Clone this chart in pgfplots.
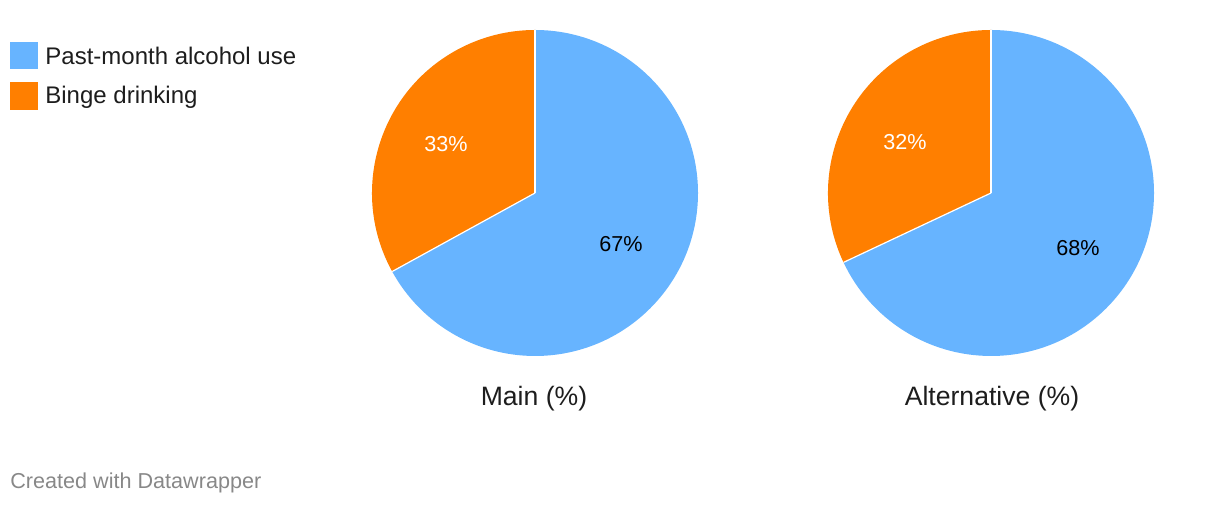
\documentclass[border=0pt]{standalone}
\usepackage{pgfplots}
\pgfplotsset{compat=1.18}
\usepackage{fontspec}
\setmainfont{Liberation Sans}

\definecolor{pastblue}{RGB}{103,180,255}
\definecolor{bingeorange}{RGB}{255,127,0}
\definecolor{txt}{RGB}{29,29,29}
\definecolor{credit}{RGB}{136,136,136}

% #1 = centre x (axis units), #2 = past-month share in percent
\newcommand\drawpie[2]{%
  \pgfmathsetmacro\ea{90-3.6*#2}%
  \edef\temp{\noexpand\fill[pastblue] (axis cs:#1,313) -- ++(90:81.5pt)
     arc[start angle=90, end angle=\ea, radius=81.5pt] -- cycle;
  \noexpand\fill[bingeorange] (axis cs:#1,313) -- ++(\ea:81.5pt)
     arc[start angle=\ea, end angle=-270, radius=81.5pt] -- cycle;
  \noexpand\draw[white, line width=0.6pt] (axis cs:#1,313) -- ++(90:81.5pt);
  \noexpand\draw[white, line width=0.6pt] (axis cs:#1,313) -- ++(\ea:81.5pt);}%
  \temp
}

\begin{document}
\begin{tikzpicture}
\begin{axis}[
    scale only axis,
    width=610pt, height=253pt,
    xmin=0, xmax=1220, ymin=0, ymax=506,
    hide axis,
    clip=false,
]
\path (axis cs:0,0) rectangle (axis cs:1220,506);

\drawpie{535}{67}
\drawpie{991}{68}

% slice labels
\node[anchor=base, font=\fontsize{10.8pt}{12pt}\selectfont, white] at (axis cs:446,354) {33\%};
\node[anchor=base, font=\fontsize{10.8pt}{12pt}\selectfont, black] at (axis cs:621,254) {67\%};
\node[anchor=base, font=\fontsize{10.8pt}{12pt}\selectfont, white] at (axis cs:905,356) {32\%};
\node[anchor=base, font=\fontsize{10.8pt}{12pt}\selectfont, black] at (axis cs:1078,250) {68\%};

% titles
\node[anchor=base, font=\fontsize{13.3pt}{15pt}\selectfont, txt] at (axis cs:534,100.3) {Main (\%)};
\node[anchor=base, font=\fontsize{13.3pt}{15pt}\selectfont, txt] at (axis cs:992,100.3) {Alternative (\%)};

% legend
\fill[pastblue] (axis cs:10,464) rectangle (axis cs:38,437);
\fill[bingeorange] (axis cs:10,424) rectangle (axis cs:38,396);
\node[anchor=base west, inner sep=0pt, font=\fontsize{12pt}{14pt}\selectfont, txt] at (axis cs:45,441.7) {Past-month alcohol use};
\node[anchor=base west, inner sep=0pt, font=\fontsize{12pt}{14pt}\selectfont, txt] at (axis cs:45,402) {Binge drinking};

% credit
\node[anchor=base west, inner sep=0pt, font=\fontsize{10.8pt}{13pt}\selectfont, credit] at (axis cs:10,17.7) {Created with Datawrapper};
\end{axis}
\end{tikzpicture}
\end{document}
